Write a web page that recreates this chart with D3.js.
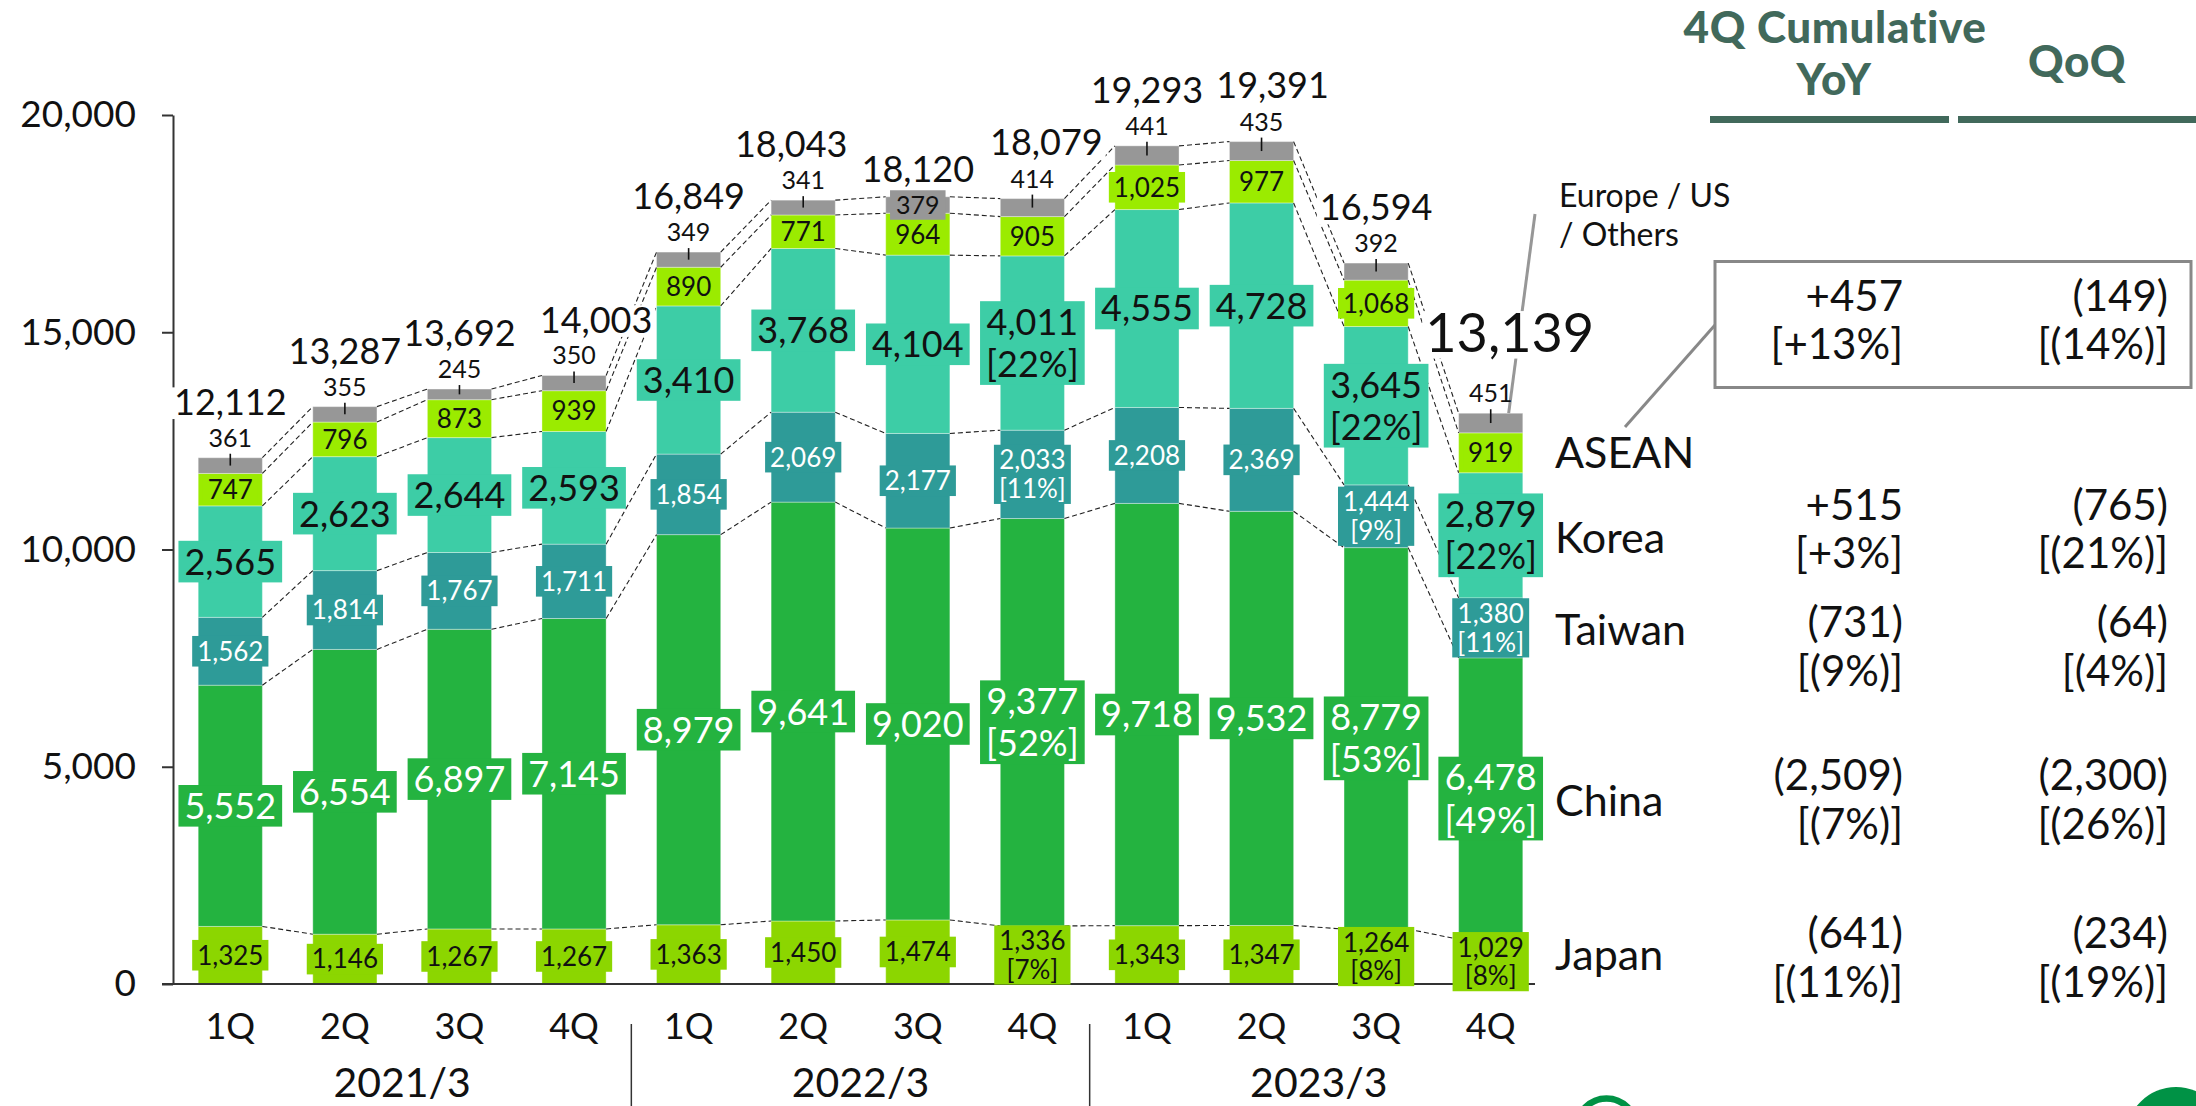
<!DOCTYPE html>
<html><head><meta charset="utf-8">
<script src="https://cdn.jsdelivr.net/npm/d3@7"></script>
<style>
body{margin:0;background:#fff}
svg{display:block;font-family:Lato,"Open Sans",sans-serif}
</style>
</head><body>
<svg id="chart" width="2196" height="1106"></svg>
<script>
// ---------------- DATA ----------------
const quarters = ["1Q","2Q","3Q","4Q","1Q","2Q","3Q","4Q","1Q","2Q","3Q","4Q"];
const fiscalYears = ["2021/3","2022/3","2023/3"];
const regions = ["Japan","China","Taiwan","Korea","ASEAN","Others"];
const japan  = [1325,1146,1267,1267,1363,1450,1474,1336,1343,1347,1264,1029];
const china  = [5552,6554,6897,7145,8979,9641,9020,9377,9718,9532,8779,6478];
const taiwan = [1562,1814,1767,1711,1854,2069,2177,2033,2208,2369,1444,1380];
const korea  = [2565,2623,2644,2593,3410,3768,4104,4011,4555,4728,3645,2879];
const asean  = [747,796,873,939,890,771,964,905,1025,977,1068,919];
const others = [361,355,245,350,349,341,379,414,441,435,392,451];
const totals = [12112,13287,13692,14003,16849,18043,18120,18079,19293,19391,16594,13139];
const japanShare  = ["","","","","","","","[7%]","","","[8%]","[8%]"];
const chinaShare  = ["","","","","","","","[52%]","","","[53%]","[49%]"];
const taiwanShare = ["","","","","","","","[11%]","","","[9%]","[11%]"];
const koreaShare  = ["","","","","","","","[22%]","","","[22%]","[22%]"];
const yTicks = [0,5000,10000,15000,20000];

const tableRegions = ["ASEAN","Korea","Taiwan","China","Japan"];
const yoyValues = ["+457","+515","(731)","(2,509)","(641)"];
const yoyShares = ["[+13%]","[+3%]","[(9%)]","[(7%)]","[(11%)]"];
const qoqValues = ["(149)","(765)","(64)","(2,300)","(234)"];
const qoqShares = ["[(14%)]","[(21%)]","[(4%)]","[(26%)]","[(19%)]"];

// ---------------- LAYOUT / STYLE ----------------
const colors = {Japan:"#8cd600",China:"#24b340",Taiwan:"#2e9b98",Korea:"#3dcda6",ASEAN:"#9beb00",Others:"#979797"};
const labelStyle = {
  Japan:{fs:26,color:"#111"}, China:{fs:36,color:"#fff"}, Taiwan:{fs:26,color:"#fff"},
  Korea:{fs:36,color:"#111"}, ASEAN:{fs:26,color:"#111"}
};
const layout = {
  totalDx:[0,0,0,22,0,-12,0,14,0,11,0,19],
  totalDy:[-43,-43,-43,-43,-43,-43,-15,-43,-43,-43,-43,-61],
  othersInside:[6],
  regionLabelY:{ASEAN:468,Korea:553,Taiwan:645,China:816,Japan:970},
  tableY:[310.7,519.6,637,790,948]
};

const svg = d3.select("#chart");
const y = d3.scaleLinear().domain([0,20000]).range([984,115]);
const x = d3.scaleBand().domain(d3.range(12)).range([173,1548]).paddingInner(0.44).paddingOuter(0.22);
const bw = x.bandwidth();

const series = {Japan:japan,China:china,Taiwan:taiwan,Korea:korea,ASEAN:asean,Others:others};
const rows = d3.range(12).map(i => {const o={i}; regions.forEach(r=>o[r]=series[r][i]); return o;});
const stacked = d3.stack().keys(regions)(rows);

// bars
const gBars = svg.append("g");
stacked.forEach(s => {
  gBars.selectAll(null).data(s).join("rect")
    .attr("x",(d,i)=>x(i)).attr("width",bw)
    .attr("y",d=>y(d[1])).attr("height",d=>y(d[0])-y(d[1]))
    .attr("fill",colors[s.key])
    .attr("stroke","rgba(255,255,255,0.35)").attr("stroke-width",1);
});

// dashed connectors
const gLines = svg.append("g");
stacked.forEach(s => {
  for (let i=0;i<11;i++){
    gLines.append("line")
      .attr("x1",x(i)+bw).attr("y1",y(s[i][1]))
      .attr("x2",x(i+1)).attr("y2",y(s[i+1][1]))
      .attr("stroke","#222").attr("stroke-width",1.1).attr("stroke-dasharray","5,3");
  }
});

// Axis
const yAxis = svg.append("g").attr("transform","translate(173,0)")
  .call(d3.axisLeft(y).tickValues(yTicks).tickFormat(d3.format(",")).tickSize(11).tickSizeOuter(0).tickPadding(26));
yAxis.select(".domain").attr("stroke","#333").attr("stroke-width",2);
yAxis.selectAll(".tick line").attr("stroke","#333").attr("stroke-width",2);
yAxis.selectAll("text").attr("font-size",37).attr("font-family","Lato").attr("fill","#111");

svg.append("line").attr("x1",162).attr("x2",1535).attr("y1",y(0)).attr("y2",y(0))
  .attr("stroke","#333").attr("stroke-width",2.2);

const xAxis = svg.append("g").attr("transform",`translate(0,${y(0)})`)
  .call(d3.axisBottom(x).tickSize(0).tickPadding(29).tickFormat(i=>quarters[i]));
xAxis.select(".domain").remove();
xAxis.selectAll("text").attr("font-size",36).attr("font-family","Lato").attr("fill","#111");

// year labels and separators
fiscalYears.forEach((fy,k)=>{
  const cx = (x(4*k+1)+x(4*k+2)+bw)/2;
  svg.append("text").attr("x",cx).attr("y",1097).attr("text-anchor","middle")
    .attr("font-size",41).attr("fill","#111").text(fy);
  if (k<2){
    const sx = (x(4*k+3)+bw+x(4*k+4))/2;
    svg.append("line").attr("x1",sx).attr("x2",sx).attr("y1",1024).attr("y2",1106)
      .attr("stroke","#333").attr("stroke-width",1.5);
  }
});

// pointer for Europe/US/Others
svg.append("line").attr("x1",1535).attr("y1",214).attr("x2",x(11)+bw*0.78).attr("y2",y(totals[11]))
  .attr("stroke","#979797").attr("stroke-width",3);

// label helper: one text element, one tspan per line, on a coloured box
const gLab = svg.append("g");
function boxedLabel(cx, cy, lines, fs, fill, color, padX){
  const g = gLab.append("g");
  const rect = g.append("rect");
  const lh = fs*(fs>30?1.17:1.1);
  const n = lines.length;
  const tx = g.append("text").attr("text-anchor","middle").attr("font-size",fs).attr("fill",color);
  lines.forEach((t,j)=>{
    tx.append("tspan").attr("x",cx)
      .attr("y", cy + (j-(n-1)/2)*lh + 0.36*fs).text(t);
  });
  const maxW = tx.node().getBBox().width;
  const h = (n-1)*lh + fs*1.1 + 2;
  rect.attr("x",cx-maxW/2-padX).attr("width",maxW+2*padX)
    .attr("y",cy-h/2).attr("height",h).attr("fill",fill);
}

const fmt = d3.format(",");
const shareMap = {Japan:japanShare,China:chinaShare,Taiwan:taiwanShare,Korea:koreaShare};
["Japan","China","Taiwan","Korea","ASEAN"].forEach(r=>{
  const s = stacked[regions.indexOf(r)];
  s.forEach((d,i)=>{
    const cy = (y(d[0])+y(d[1]))/2;
    const lines=[fmt(series[r][i])];
    if (shareMap[r] && shareMap[r][i]) lines.push(shareMap[r][i]);
    const st = labelStyle[r];
    boxedLabel(x(i)+bw/2, cy, lines, st.fs, colors[r], st.color, st.fs>30?6:5);
  });
});

// Others labels
const sO = stacked[5];
sO.forEach((d,i)=>{
  const cx = x(i)+bw/2;
  const top = y(d[1]), bot = y(d[0]);
  if (layout.othersInside.includes(i)){
    boxedLabel(cx,(top+bot)/2,[fmt(others[i])],25,colors.Others,"#111",6);
  } else {
    gLab.append("line").attr("x1",cx).attr("x2",cx).attr("y1",(top+bot)/2).attr("y2",top-4)
      .attr("stroke","#111").attr("stroke-width",1.6);
    gLab.append("text").attr("x",cx).attr("y",top-11).attr("text-anchor","middle")
      .attr("font-size",25).attr("fill","#111").text(fmt(others[i]));
  }
});

// totals
totals.forEach((t,i)=>{
  const fs = i===11?54:36;
  const cx = x(i)+bw/2+layout.totalDx[i];
  const by = y(totals[i]) + layout.totalDy[i];
  const g = gLab.append("g");
  const r = g.append("rect").attr("fill","#fff");
  const tx = g.append("text").attr("x",cx).attr("y",by).attr("text-anchor","middle")
    .attr("font-size",fs).attr("fill","#111").text(fmt(t));
  const w = tx.node().getComputedTextLength();
  r.attr("x",cx-w/2-3).attr("width",w+6).attr("y",by-0.76*fs).attr("height",0.88*fs);
});

// region labels
Object.entries(layout.regionLabelY).forEach(([r,yy])=>{
  svg.append("text").attr("x",1555).attr("y",yy).attr("font-size",43).attr("fill","#111").text(r);
});
svg.append("text").attr("font-size",32).attr("fill","#111")
  .call(t=>{
    t.append("tspan").attr("x",1559).attr("y",207).text("Europe / US");
    t.append("tspan").attr("x",1559).attr("y",246).text("/ Others");
  });

// table header
const hc = "#41695b";
svg.append("text").attr("text-anchor","middle").attr("font-size",44).attr("font-weight",900)
  .attr("letter-spacing",0.6).attr("fill",hc)
  .call(t=>{
    t.append("tspan").attr("x",1835).attr("y",43).text("4Q Cumulative");
    t.append("tspan").attr("x",1834).attr("y",95).text("YoY");
  });
svg.append("text").attr("x",2077).attr("y",77).attr("text-anchor","middle").attr("font-size",44)
  .attr("font-weight",900).attr("letter-spacing",0.6).attr("fill",hc).text("QoQ");
svg.append("rect").attr("x",1710).attr("y",116).attr("width",239).attr("height",7).attr("fill",hc);
svg.append("rect").attr("x",1958).attr("y",116).attr("width",238).attr("height",7).attr("fill",hc);

// ASEAN box + leader
svg.append("line").attr("x1",1625).attr("y1",427).attr("x2",1715).attr("y2",325)
  .attr("stroke","#888").attr("stroke-width",3);
svg.append("rect").attr("x",1715).attr("y",261.5).attr("width",476).attr("height",126)
  .attr("fill","#fff").attr("stroke","#888").attr("stroke-width",3);

tableRegions.forEach((r,k)=>{
  const by = layout.tableY[k];
  [[yoyValues,yoyShares,1903],[qoqValues,qoqShares,2168]].forEach(([v,s,xr])=>{
    svg.append("text").attr("text-anchor","end").attr("font-size",42).attr("fill","#111")
      .call(t=>{
        t.append("tspan").attr("x",xr).attr("y",by).text(v[k]);
        t.append("tspan").attr("x",xr).attr("y",by+48.5).text(s[k]);
      });
  });
});

// decorative marks at bottom
svg.append("circle").attr("cx",1606.5).attr("cy",1128).attr("r",29.5).attr("fill","none")
  .attr("stroke","#009245").attr("stroke-width",6.5);
svg.append("circle").attr("cx",2176).attr("cy",1137).attr("r",50).attr("fill","#009245");
</script>
</body></html>
